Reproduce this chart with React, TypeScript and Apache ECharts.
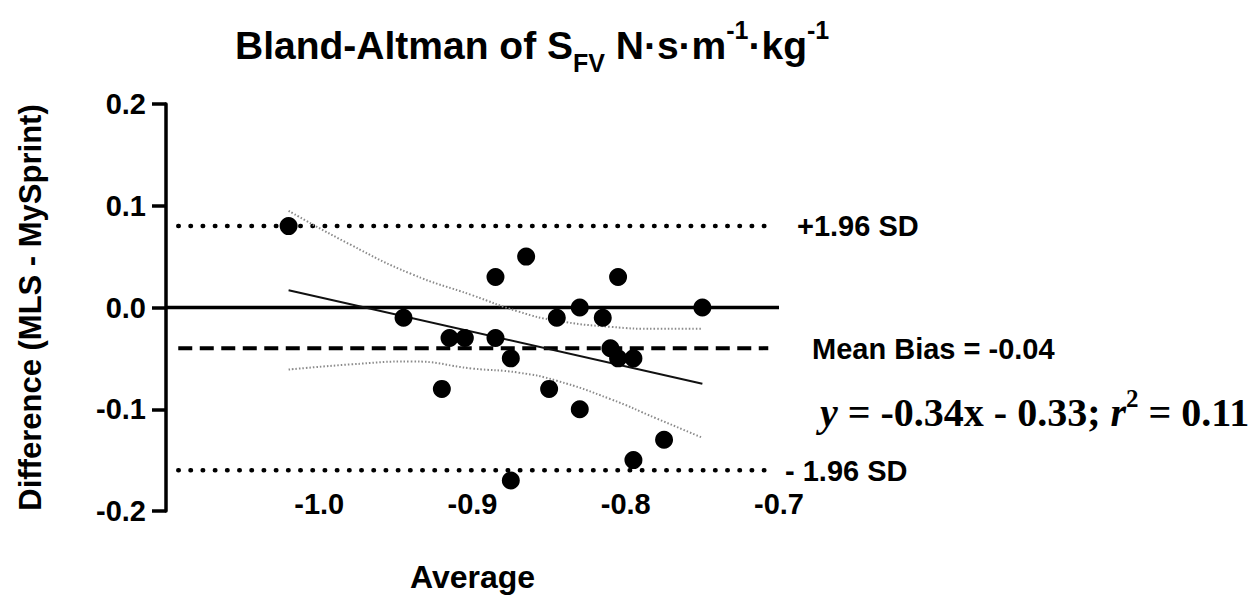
import React, { useEffect, useRef } from "react";
import * as echarts from "echarts";

// Bland-Altman data
const avgValues = [-1.02, -0.945, -0.92, -0.915, -0.905, -0.885, -0.885, -0.875, -0.875, -0.865, -0.85, -0.845, -0.83, -0.83, -0.815, -0.81, -0.805, -0.805, -0.795, -0.795, -0.775, -0.75];
const diffValues = [0.08, -0.01, -0.08, -0.03, -0.03, 0.03, -0.03, -0.05, -0.17, 0.05, -0.08, -0.01, 0.0, -0.1, -0.01, -0.04, 0.03, -0.05, -0.05, -0.15, -0.13, 0.0];

const meanBias = -0.04;
const upperLoA = 0.08;
const lowerLoA = -0.16;
const refSpan = [-1.092, -0.707];
const zeroSpan = [-1.1, -0.7];

// regression line endpoints (y = -0.34x - 0.33)
const regX = [-1.02, -0.75];
const regY = [0.017, -0.075];

// confidence band of regression
const bandX = [-1.02, -0.98, -0.94, -0.9, -0.87, -0.845, -0.81, -0.78, -0.75];
const bandUpper = [0.095, 0.062, 0.033, 0.012, -0.004, -0.013, -0.019, -0.021, -0.021];
const bandLower = [-0.061, -0.056, -0.053, -0.06, -0.064, -0.072, -0.09, -0.109, -0.128];

const yTicks = [-0.2, -0.1, 0.0, 0.1, 0.2];
const xTickLabels = ["-1.0", "-0.9", "-0.8", "-0.7"];

const SANS = "'Liberation Sans', Arial, Helvetica, sans-serif";
const SERIF = "'Liberation Serif', 'Times New Roman', serif";

export default function App() {
  const ref = useRef<HTMLDivElement>(null);

  useEffect(() => {
    document.body.style.margin = "0";
    document.body.style.overflow = "hidden";
    if (!ref.current) return;
    const chart = echarts.init(ref.current, undefined, { renderer: "svg" });

    const points = avgValues.map((x, i) => [x, diffValues[i]]);
    const hLine = (y: number, span: number[]) => span.map((x) => [x, y]);

    chart.setOption({
      animation: false,
      backgroundColor: "#ffffff",
      title: {
        left: 230,
        top: 16,
        text: "{a|Bland-Altman of S}{sub|FV}{a| N·s·m}{sup|-1}{a|·kg}{sup|-1}",
        textStyle: {
          rich: {
            a: { fontFamily: SANS, fontWeight: "bold", fontSize: 39, color: "#000", lineHeight: 48, verticalAlign: "middle" },
            sub: { fontFamily: SANS, fontWeight: "bold", fontSize: 25, color: "#000", verticalAlign: "bottom", padding: [0, 0, -6, 0] },
            sup: { fontFamily: SANS, fontWeight: "bold", fontSize: 25, color: "#000", verticalAlign: "top", padding: [-4, 0, 0, 0] },
          },
        },
      },
      grid: { left: 166, right: 478, top: 104, bottom: 86, containLabel: false },
      xAxis: {
        type: "value",
        min: -1.1,
        max: -0.7,
        interval: 0.1,
        offset: -22,
        axisLine: { show: false },
        axisTick: { show: false },
        splitLine: { show: false },
        axisLabel: {
          margin: 0,
          fontFamily: SANS,
          fontWeight: "bold",
          fontSize: 29,
          color: "#000",
          formatter: (v: number) => {
            const s = v.toFixed(1);
            return xTickLabels.includes(s) ? s : "";
          },
        },
        name: "Average",
        nameLocation: "middle",
        nameGap: 72,
        nameTextStyle: { fontFamily: SANS, fontWeight: "bold", fontSize: 32, color: "#000" },
      },
      yAxis: {
        type: "value",
        min: yTicks[0],
        max: yTicks[yTicks.length - 1],
        interval: 0.1,
        axisLine: { show: true, onZero: false, lineStyle: { color: "#000", width: 3.5 } },
        axisTick: { show: true, inside: false, length: 14, lineStyle: { color: "#000", width: 3.5 } },
        splitLine: { show: false },
        axisLabel: {
          margin: 20,
          fontFamily: SANS,
          fontWeight: "bold",
          fontSize: 29,
          color: "#000",
          formatter: (v: number) => v.toFixed(1),
        },
        name: "Difference (MLS - MySprint)",
        nameLocation: "middle",
        nameGap: 120,
        nameTextStyle: { fontFamily: SANS, fontWeight: "bold", fontSize: 31, color: "#000" },
      },
      series: [
        {
          type: "line",
          data: hLine(0, zeroSpan),
          symbol: "none",
          clip: false,
          lineStyle: { color: "#000", width: 3.5 },
          z: 2,
        },
        {
          type: "line",
          data: hLine(upperLoA, refSpan),
          symbol: "none",
          clip: false,
          lineStyle: { color: "#000", width: 4.5, type: [0.5, 11.7], cap: "round" },
          z: 2,
        },
        {
          type: "line",
          data: hLine(lowerLoA, refSpan),
          symbol: "none",
          clip: false,
          lineStyle: { color: "#000", width: 4.5, type: [0.5, 11.7], cap: "round" },
          z: 2,
        },
        {
          type: "line",
          data: hLine(meanBias, refSpan),
          symbol: "none",
          clip: false,
          lineStyle: { color: "#000", width: 4, type: [14, 7.5] },
          z: 2,
        },
        {
          type: "line",
          data: bandX.map((x, i) => [x, bandUpper[i]]),
          symbol: "none",
          smooth: true,
          lineStyle: { color: "#8a8a8a", width: 2, type: [1.5, 2], cap: "butt" },
          z: 3,
        },
        {
          type: "line",
          data: bandX.map((x, i) => [x, bandLower[i]]),
          symbol: "none",
          smooth: true,
          lineStyle: { color: "#8a8a8a", width: 2, type: [1.5, 2], cap: "butt" },
          z: 3,
        },
        {
          type: "line",
          data: regX.map((x, i) => [x, regY[i]]),
          symbol: "none",
          lineStyle: { color: "#111", width: 2 },
          z: 4,
        },
        {
          type: "scatter",
          data: points,
          symbol: "circle",
          symbolSize: 18,
          itemStyle: { color: "#000", opacity: 1 },
          z: 5,
        },
      ],
      graphic: [
        {
          type: "text",
          left: 797,
          top: 211,
          style: { text: "+1.96 SD", fontFamily: SANS, fontWeight: "bold", fontSize: 29, fill: "#000" },
        },
        {
          type: "text",
          left: 812,
          top: 334,
          style: { text: "Mean Bias = -0.04", fontFamily: SANS, fontWeight: "bold", fontSize: 29, fill: "#000" },
        },
        {
          type: "text",
          left: 820,
          top: 386,
          style: {
            text: "{i|y}{n| = -0.34x - 0.33; }{i|r}{s|2}{n| = 0.11}",
            rich: {
              i: { fontFamily: SERIF, fontWeight: "bold", fontStyle: "italic", fontSize: 40, fill: "#000", verticalAlign: "bottom", lineHeight: 46 },
              n: { fontFamily: SERIF, fontWeight: "bold", fontSize: 40, fill: "#000", verticalAlign: "bottom", lineHeight: 46 },
              s: { fontFamily: SERIF, fontWeight: "bold", fontSize: 25, fill: "#000", verticalAlign: "top", lineHeight: 46 },
            },
          },
        },
        {
          type: "text",
          left: 785,
          top: 456,
          style: { text: "- 1.96 SD", fontFamily: SANS, fontWeight: "bold", fontSize: 29, fill: "#000" },
        },
      ],
    });

    return () => chart.dispose();
  }, []);

  return <div ref={ref} style={{ width: 1257, height: 598 }} />;
}
